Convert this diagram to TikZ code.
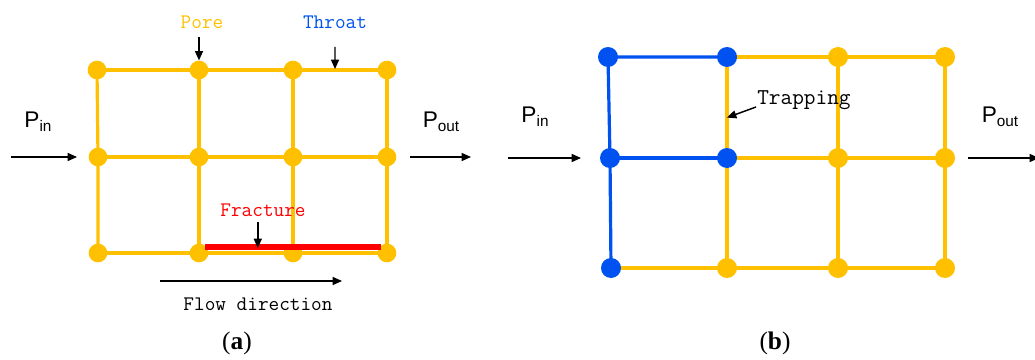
\documentclass[tikz,border=0pt]{standalone}
\usepackage{fontspec}
\setmainfont{Liberation Serif}
\newfontfamily\arialfont{Liberation Sans}
\usetikzlibrary{arrows.meta,calc}
\definecolor{poregold}{HTML}{FFC000}
\definecolor{poreblue}{HTML}{0052F0}
\definecolor{fracred}{HTML}{FF0000}
\newcommand{\pres}[1]{{\arialfont\fontsize{17}{17}\selectfont P\raisebox{-0.35ex}{\fontsize{11.5}{11.5}\selectfont #1}}}
\begin{document}
\begin{tikzpicture}[x=0.75pt,y=-0.75pt,
  pore/.style={circle,fill=poregold,inner sep=0pt,minimum size=14pt},
  bpore/.style={pore,fill=poreblue},
  bigpore/.style={pore,minimum size=15pt},
  bigbpore/.style={bpore,minimum size=15pt},
  throat/.style={draw=poregold,line width=2.4pt},
  bthroat/.style={draw=poreblue,line width=2.4pt},
  fracture/.style={draw=fracred,line width=3.8pt},
  pointer/.style={draw=black,line width=1.1pt,-{Triangle[length=7pt,width=6pt]}},
  lbl/.style={font=\ttfamily\fontsize{15.5}{15.5}\selectfont,inner sep=0pt},
  captext/.style={font=\fontsize{19}{19}\selectfont,inner sep=0pt}]
\useasboundingbox (0,0) rectangle (1035,360);

% ---------- network (a) ----------
\coordinate (a11) at (97,70);
\coordinate (a12) at (199,70);
\coordinate (a13) at (293,70);
\coordinate (a14) at (387,70);
\coordinate (a21) at (98,157);
\coordinate (a22) at (199,157);
\coordinate (a23) at (293,157);
\coordinate (a24) at (387,157);
\coordinate (a31) at (98,253);
\coordinate (a32) at (199,253);
\coordinate (a33) at (293,253);
\coordinate (a34) at (387,253);
\foreach \r in {1,2,3}{
  \draw[throat] (a\r1) -- (a\r2) -- (a\r3) -- (a\r4);}
\foreach \c in {1,2,3,4}{
  \draw[throat] (a1\c) -- (a2\c) -- (a3\c);}
\foreach \n in {a11,a12,a13,a14,a21,a22,a23,a24,a31,a32,a33,a34}
  \node[pore] (n\n) at (\n) {};

% fracture along the bottom row
\coordinate (fs) at ($(a32)+(6,-6)$);
\coordinate (fe) at ($(a34)+(-6,-6)$);
\draw[fracture] (fs) -- (fe);
\coordinate (fmid) at ($(fs)!0.30!(fe)$);

% labels of (a)
\node[lbl,text=poregold] (porel) at (202,22) {Pore};
\node[lbl,text=poreblue] (throatl) at (335,22) {Throat};
\node[lbl,text=fracred] (fracl) at (263,210) {Fracture};
\coordinate (thr) at ($(a13)!0.447!(a14)+(0,-1)$);
\coordinate (poretip) at (199,37);
\coordinate (throattip) at (335,47);
\draw[pointer] (poretip) -- (na12.north);
\draw[pointer] (throattip) -- (thr);
\draw[pointer] ($(fmid)+(0,-25)$) -- ($(fmid)+(0,1)$);

\node[inner sep=0pt] (pina) at (38,122) {\pres{in}};
\node[inner sep=0pt] (pouta) at (441,122) {\pres{out}};
\coordinate (ina0) at (11,157);
\coordinate (ina1) at (77,157);
\draw[pointer] (ina0) -- (ina1);
\coordinate (outa0) at (410,157);
\coordinate (outa1) at (471,157);
\draw[pointer] (outa0) -- (outa1);

\coordinate (flow0) at (160,281);
\coordinate (flow1) at (342,281);
\draw[pointer] (flow0) -- (flow1);
\node[lbl] (flowl) at (258,304) {Flow direction};
\node[captext] (capa) at (237,343) {(\textbf{a})};

% ---------- network (b) ----------
\coordinate (b11) at (608,57);
\coordinate (b12) at (727,57);
\coordinate (b13) at (838,57);
\coordinate (b14) at (945,57);
\coordinate (b21) at (610,158);
\coordinate (b22) at (727,158);
\coordinate (b23) at (838,158);
\coordinate (b24) at (945,158);
\coordinate (b31) at (611,268);
\coordinate (b32) at (727,268);
\coordinate (b33) at (838,268);
\coordinate (b34) at (945,268);
% invaded (blue) and untouched (gold) throats
\draw[throat] (b12) -- (b13) -- (b14);
\draw[throat] (b22) -- (b23) -- (b24);
\draw[throat] (b31) -- (b32) -- (b33) -- (b34);
\draw[throat] (b12) -- (b22) -- (b32);
\draw[throat] (b13) -- (b23) -- (b33);
\draw[throat] (b14) -- (b24) -- (b34);
\draw[bthroat] (b21) -- (b11) -- (b12);
\draw[bthroat] (b21) -- (b22);
\draw[bthroat] (b21) -- (b31);
\foreach \n in {b11,b12,b21,b22,b31}
  \node[bigbpore] (n\n) at (\n) {};
\foreach \n in {b13,b14,b23,b24,b32,b33,b34}
  \node[bigpore] (n\n) at (\n) {};

\coordinate (trap) at ($(b12)!0.60!(b22)$);
\node[lbl,font=\ttfamily\fontsize{17}{17}\selectfont,anchor=west] (trapl) at (757,100) {Trapping};
\coordinate (traptail) at (756,107);
\draw[pointer] (traptail) -- (trap);

\node[inner sep=0pt] (pinb) at (535,117) {\pres{in}};
\node[inner sep=0pt] (poutb) at (1000,117) {\pres{out}};
\coordinate (inb0) at (508,158);
\coordinate (inb1) at (581,158);
\draw[pointer] (inb0) -- (inb1);
\coordinate (outb0) at (968,158);
\coordinate (outb1) at (1039,158);
\draw[pointer] (outb0) -- (outb1);
\node[captext] (capb) at (775,343) {(\textbf{b})};
\end{tikzpicture}
\end{document}
